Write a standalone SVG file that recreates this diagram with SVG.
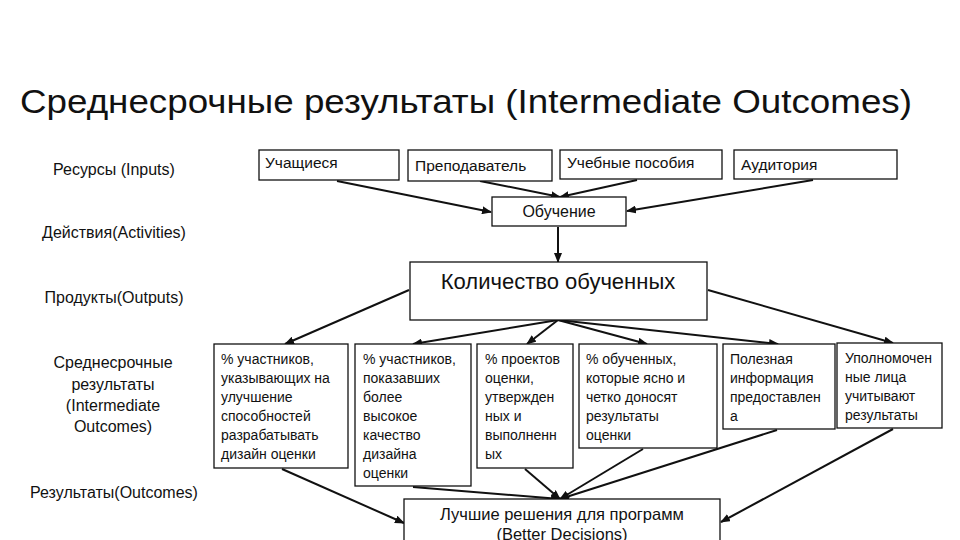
<svg xmlns="http://www.w3.org/2000/svg" width="960" height="540" viewBox="0 0 960 540">
<defs>
<style>
text{font-family:"Liberation Sans","DejaVu Sans",sans-serif;fill:#111}
.box{fill:#fff;stroke:#111;stroke-width:1.3}
.lbl{font-size:16px;text-anchor:middle}
.top{font-size:15.5px}
.bt{font-size:14px}
.con line{stroke:#111;stroke-width:2}
</style>
<marker id="ah" markerUnits="userSpaceOnUse" markerWidth="10" markerHeight="8" refX="9" refY="4" orient="auto">
<path d="M0,0 L10,4 L0,8 Z" fill="#111"/>
</marker>
</defs>
<rect width="960" height="540" fill="#fff"/>
<text x="20" y="113" font-size="33" textLength="892" lengthAdjust="spacingAndGlyphs">Среднесрочные результаты (Intermediate Outcomes)</text>

<g id="left-labels">
<text class="lbl" x="114" y="175">Ресурсы (Inputs)</text>
<text class="lbl" x="114" y="238">Действия(Activities)</text>
<text class="lbl" x="114" y="303">Продукты(Outputs)</text>
<text class="lbl" x="113" y="368">Среднесрочные</text>
<text class="lbl" x="113" y="390">результаты</text>
<text class="lbl" x="113" y="411">(Intermediate</text>
<text class="lbl" x="113" y="432">Outcomes)</text>
<text class="lbl" x="114" y="498">Результаты(Outcomes)</text>
</g>

<g class="con" id="connectors">
<line x1="337" y1="181" x2="491" y2="212" marker-end="url(#ah)"/>
<line x1="480" y1="181" x2="560" y2="197" marker-end="url(#ah)"/>
<line x1="637" y1="180" x2="560" y2="197" marker-end="url(#ah)"/>
<line x1="813" y1="180" x2="627" y2="211" marker-end="url(#ah)"/>
<line x1="558" y1="227" x2="558" y2="262" stroke-width="3" marker-end="url(#ah)"/>
<line x1="409" y1="290" x2="285" y2="344" marker-end="url(#ah)"/>
<line x1="558" y1="320" x2="413" y2="344" marker-end="url(#ah)"/>
<line x1="558" y1="320" x2="527" y2="344" marker-end="url(#ah)"/>
<line x1="558" y1="320" x2="647" y2="344" marker-end="url(#ah)"/>
<line x1="558" y1="320" x2="778" y2="344" marker-end="url(#ah)"/>
<line x1="708" y1="290" x2="893" y2="343" marker-end="url(#ah)"/>
<line x1="282" y1="469" x2="404" y2="523" marker-end="url(#ah)"/>
<line x1="413" y1="487" x2="560" y2="499" marker-end="url(#ah)"/>
<line x1="525" y1="469" x2="560" y2="499" marker-end="url(#ah)"/>
<line x1="643" y1="449" x2="560" y2="499" marker-end="url(#ah)"/>
<line x1="777" y1="430" x2="560" y2="499" marker-end="url(#ah)"/>
<line x1="893" y1="429" x2="721" y2="522" marker-end="url(#ah)"/>
</g>

<g id="n-uchashchiesya"><rect class="box" x="259" y="150" width="140" height="30"/><text class="top" x="265" y="168">Учащиеся</text></g>
<g id="n-prepodavatel"><rect class="box" x="408" y="150" width="144" height="31"/><text class="top" x="415" y="171">Преподаватель</text></g>
<g id="n-posobiya"><rect class="box" x="560" y="150" width="162" height="29"/><text class="top" x="567" y="168">Учебные пособия</text></g>
<g id="n-auditoriya"><rect class="box" x="734" y="150" width="163" height="29"/><text class="top" x="741" y="170">Аудитория</text></g>
<g id="n-obuchenie"><rect class="box" x="492" y="197" width="134" height="29"/><text x="559" y="217" font-size="16" text-anchor="middle">Обучение</text></g>
<g id="n-kolichestvo"><rect class="box" x="410" y="262" width="297" height="58"/><text x="558" y="289" font-size="22" text-anchor="middle">Количество обученных</text></g>

<g id="n-o1"><rect class="box" x="214" y="344" width="134" height="124"/>
<text class="bt"><tspan x="221" y="364">% участников,</tspan><tspan x="221" y="383">указывающих на</tspan><tspan x="221" y="402">улучшение</tspan><tspan x="221" y="421">способностей</tspan><tspan x="221" y="440">разрабатывать</tspan><tspan x="221" y="459">дизайн оценки</tspan></text></g>
<g id="n-o2"><rect class="box" x="355" y="344" width="116" height="142"/>
<text class="bt"><tspan x="363" y="364">% участников,</tspan><tspan x="363" y="383">показавших</tspan><tspan x="363" y="402">более</tspan><tspan x="363" y="421">высокое</tspan><tspan x="363" y="440">качество</tspan><tspan x="363" y="459">дизайна</tspan><tspan x="363" y="478">оценки</tspan></text></g>
<g id="n-o3"><rect class="box" x="477" y="344" width="96" height="124"/>
<text class="bt"><tspan x="485" y="364">% проектов</tspan><tspan x="485" y="383">оценки,</tspan><tspan x="485" y="402">утвержден</tspan><tspan x="485" y="421">ных и</tspan><tspan x="485" y="440">выполненн</tspan><tspan x="485" y="459">ых</tspan></text></g>
<g id="n-o4"><rect class="box" x="579" y="344" width="138" height="104"/>
<text class="bt"><tspan x="586" y="364">% обученных,</tspan><tspan x="586" y="383">которые ясно и</tspan><tspan x="586" y="402">четко доносят</tspan><tspan x="586" y="421">результаты</tspan><tspan x="586" y="440">оценки</tspan></text></g>
<g id="n-o5"><rect class="box" x="723" y="344" width="112" height="85"/>
<text class="bt"><tspan x="730" y="364">Полезная</tspan><tspan x="730" y="383">информация</tspan><tspan x="730" y="402">предоставлен</tspan><tspan x="730" y="421">а</tspan></text></g>
<g id="n-o6"><rect class="box" x="837" y="343" width="105" height="85"/>
<text class="bt"><tspan x="845" y="363">Уполномочен</tspan><tspan x="845" y="382">ные лица</tspan><tspan x="845" y="401">учитывают</tspan><tspan x="845" y="420">результаты</tspan></text></g>

<g id="n-better"><rect class="box" x="404" y="499" width="316" height="60"/>
<text x="562" y="520" font-size="16.5" text-anchor="middle">Лучшие решения для программ</text>
<text x="562" y="540" font-size="16.5" text-anchor="middle">(Better Decisions)</text></g>
</svg>
